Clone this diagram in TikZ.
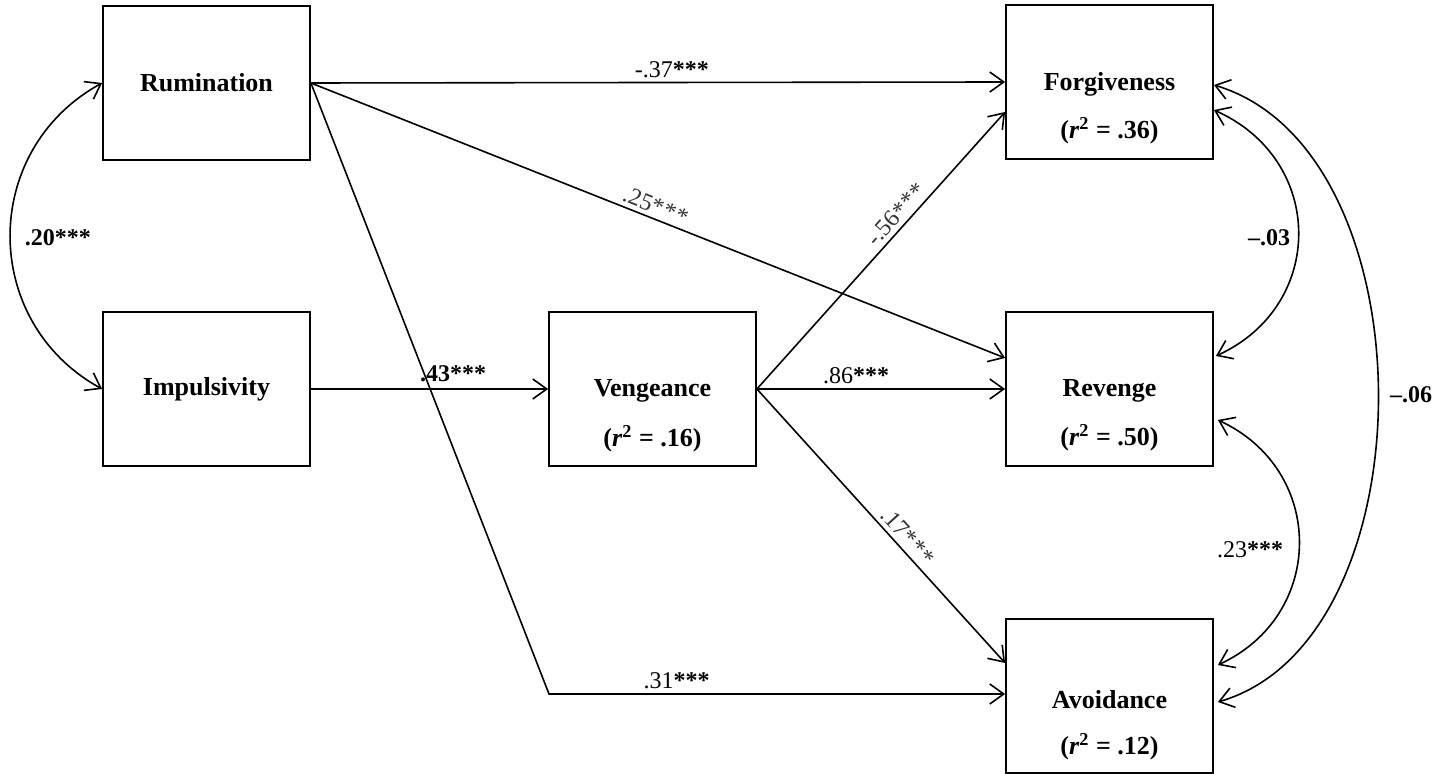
\documentclass[tikz,border=0pt]{standalone}
\usepackage{fontspec}
\setmainfont{Liberation Serif}
\usetikzlibrary{arrows.meta,calc}

\tikzset{
  x=0.5pt, y=-0.5pt,
  box/.style={draw, line width=0.9pt, minimum width=103.5pt, minimum height=77pt,
              inner sep=0pt, font=\fontsize{13}{15}\selectfont\bfseries},
  title/.style={inner sep=0pt, font=\fontsize{13}{15}\selectfont\bfseries},
  rsq/.style={inner sep=0pt, font=\fontsize{13}{15}\selectfont\bfseries},
  path/.style={line width=0.8pt, -{Straight Barb[length=7pt,width=10pt,line width=0.8pt]}},
  cov/.style={line width=0.8pt,
              {Straight Barb[length=7pt,width=10pt,line width=0.8pt]}-{Straight Barb[length=7pt,width=10pt,line width=0.8pt]}},
  coef/.style={font=\fontsize{12}{14}\selectfont, inner sep=2pt},
  slcoef/.style={font=\fontsize{12}{14}\selectfont, inner sep=2pt, text=black!80},
}
\newcommand{\spstars}{*\kern0.5pt*\kern0.5pt*}

\begin{document}
\begin{tikzpicture}
\useasboundingbox (0,0) rectangle (1451,774);

% variables
\node[box] (rum) at (206.5,83) {Rumination};
\node[box] (imp) at (206.5,389) {Impulsivity};
\node[box] (ven) at (652.5,389) {};
\node[title] (vent) at ($(ven.center)+(0,2)$) {Vengeance};
\node[rsq] (venr) at ($(ven.center)+(0,50)$) {(\textit{r}\textsuperscript{2} = .16)};
\node[box] (forg) at (1109.5,82) {};
\node[title] (forgt) at ($(forg.center)+(0,2)$) {Forgiveness};
\node[rsq] (forgr) at ($(forg.center)+(0,49)$) {(\textit{r}\textsuperscript{2} = .36)};
\node[box] (rev) at (1109.5,389) {};
\node[title] (revt) at ($(rev.center)+(0,2)$) {Revenge};
\node[rsq] (revr) at ($(rev.center)+(0,49)$) {(\textit{r}\textsuperscript{2} = .50)};
\node[box] (avo) at (1109.5,696) {};
\node[title] (avot) at ($(avo.center)+(0,4)$) {Avoidance};
\node[rsq] (avor) at ($(avo.center)+(0,51)$) {(\textit{r}\textsuperscript{2} = .12)};

\coordinate (bend) at (549,694);

% direct paths
\draw[path] (rum.east) -- node[coef, above, pos=0.52] (l37) {-.37\textbf{***}} (forg.west);
\draw[path] (rum.east) -- node[slcoef, sloped, above, pos=0.49] (l25) {.25\spstars}
  ($(rev.west)+(0,-31)$);
\draw[path] (rum.east) -- (bend) -- node[coef, above, pos=0.28] (l31) {.31\textbf{***}}
  ($(avo.west)+(0,-2)$);
\draw[path] (imp.east) -- node[coef, above, pos=0.6, yshift=1pt] (l43) {\textbf{.43***}} (ven.west);
\draw[path] (ven.east) -- node[slcoef, sloped, above, pos=0.6] (l56) {-.56\spstars}
  ($(forg.west)+(0,30)$);
\draw[path] (ven.east) -- node[coef, above, pos=0.4] (l86) {.86\textbf{***}} (rev.west);
\draw[path] (ven.east) -- node[slcoef, sloped, above, pos=0.57] (l17) {.17\spstars}
  ($(avo.west)+(0,-33)$);

% covariances
\draw[cov] (rum.west) .. controls (-20,150) and (-20,322) .. (imp.west);
\node[coef, font=\fontsize{12}{14}\selectfont\bfseries] (l20) at (58,238) {.20***};

\draw[cov] ($(forg.east)+(0,28)$) .. controls (1326,160) and (1326,306) .. ($(rev.east)+(2,-33)$);
\node[coef, font=\fontsize{12}{14}\selectfont\bfseries] (l03) at (1269,238) {--.03};

\draw[cov] ($(rev.east)+(4,31)$) .. controls (1326,470) and (1326,615) .. ($(avo.east)+(4,-31)$);
\node[coef] (l23) at (1250,550) {.23\textbf{***}};

\draw[cov] ($(forg.east)+(0,3)$) .. controls (1432,150) and (1432,640) .. ($(avo.east)+(4,6)$);
\node[coef, font=\fontsize{12}{14}\selectfont\bfseries] (l06) at (1411,395) {--.06};
\end{tikzpicture}
\end{document}
